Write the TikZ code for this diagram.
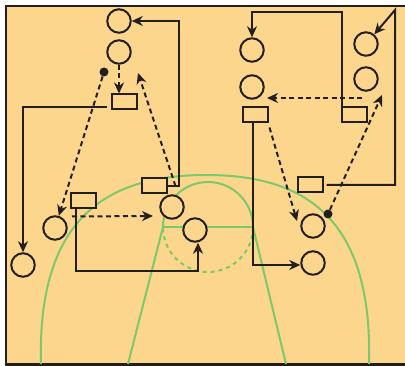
\documentclass[tikz,border=0pt]{standalone}
\usetikzlibrary{arrows.meta}
\definecolor{bg}{RGB}{253,214,142}
\definecolor{court}{RGB}{124,200,106}
\definecolor{ink}{RGB}{35,31,32}
\begin{document}
\begin{tikzpicture}[x=1pt,y=-1pt,
 player/.style={circle,draw=ink,fill=bg,line width=2pt,minimum size=23.5pt,inner sep=0pt},
 cone/.style={rectangle,draw=ink,fill=bg,line width=2pt,minimum width=25pt,minimum height=15pt,inner sep=0pt},
 ball/.style={circle,fill=ink,minimum size=9pt,inner sep=0pt},
 move/.style={draw=ink,line width=2pt,-{Stealth[length=11pt,width=10pt,inset=3.5pt]}},
 pass/.style={move,dash pattern=on 5pt off 3.5pt},
 courtline/.style={draw=court,line width=2pt}]
\useasboundingbox (0,0) rectangle (405,366);
\fill[bg] (6,6) rectangle (405,364.5);
\draw[ink,line width=2.4pt] (405,6) -- (6,6) -- (6,364.5) -- (405,364.5);
% court
\draw[courtline] (41,364) .. controls (37,215) and (110,175) .. (206,175)
  .. controls (302,175) and (373,215) .. (369,364);
\draw[courtline] (163,227) arc[start angle=180,end angle=360,radius=45];
\draw[courtline,dash pattern=on 4pt off 4pt] (253,227) arc[start angle=0,end angle=180,radius=45];
\draw[courtline] (163,227) -- (253,227);
\draw[courtline] (163,227) -- (128,364);
\draw[courtline] (253,227) -- (286,364);
% players
\node[player] (c1) at (119,21) {};
\node[player] (c2) at (119,52) {};
\node[player] (c3) at (23,265) {};
\node[player] (c4) at (55,228) {};
\node[player] (c5) at (172,207) {};
\node[player] (c6) at (195,230) {};
\node[player] (c7) at (252,50) {};
\node[player] (c8) at (252,87) {};
\node[player] (c9) at (366,44) {};
\node[player] (c10) at (366,79) {};
\node[player] (c11) at (313,226) {};
\node[player] (c12) at (313,263) {};
% cones
\node[cone] (r1) at (124,102) {};
\node[cone] (r2) at (154,186) {};
\node[cone] (r3) at (83,201) {};
\node[cone] (r4) at (255,115) {};
\node[cone] (r5) at (354,115) {};
\node[cone] (r6) at (310,185) {};
% balls
\node[ball] (d1) at (104,72) {};
\node[ball] (d2) at (328,214) {};
% free ends
\coordinate (e1) at (138,73);
\coordinate (e2) at (153,216);
\coordinate (e3) at (297,221);
\coordinate (e4) at (267,98);
\coordinate (s4) at (362,98);
\coordinate (e5) at (382,95);
\coordinate (k1) at (395,10);
% movements
\draw[pass] (c2) -- (c2 |- r1.north);
\draw[move] ([shift={(-4pt,3pt)}]r1.south west) -| (c3.north);
\draw[pass] (d1) -- (c4);
\draw[pass] ([xshift=8pt]r2.east) -- (e1);
\draw[move] (r2.east) -- ++(11,0) |- (c1.east);
\draw[move] ([xshift=-7pt]r3.south) -- ++(0,62) -| ([xshift=3pt]c6.south);
\draw[pass] ([shift={(-11pt,-7pt)}]r3.south) -- (e2);
\draw[move] ([xshift=-2pt]r4.south) |- ([yshift=-2pt]c12.west);
\draw[pass] ([shift={(1pt,-4pt)}]r4.south east) -- (e3);
\draw[move] ([xshift=1pt]r5.north west) -- ++(0,-94) -| (c7.north);
\draw[pass] (s4) -- (e4);
\draw[pass] (d2) -- (e5);
\draw[move] ([xshift=3pt]r6.east) -| (k1) -- (c9);
\end{tikzpicture}
\end{document}
